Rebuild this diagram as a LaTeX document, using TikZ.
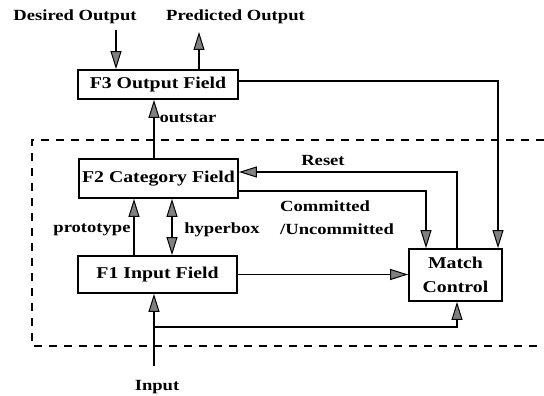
\documentclass[tikz,border=0pt]{standalone}
\usepackage{fontspec}
\setmainfont[FakeStretch=1.2]{Liberation Serif}
\usetikzlibrary{arrows.meta,calc}
\begin{document}
\begin{tikzpicture}[x=1pt,y=-1pt,
  every node/.style={font=\fontsize{15.5}{23}\selectfont\bfseries, inner sep=0pt},
  box/.style={draw, line width=1.8pt, rectangle, align=center, font=\fontsize{16.5}{24}\selectfont\bfseries},
  tip/.tip={Triangle[length=18pt,width=11pt,fill=black!50,line width=1pt]},
  arr/.style={line width=1.8pt, -tip},
  darr/.style={line width=1.8pt, tip-tip},
  dline/.style={line width=1.6pt, dash pattern=on 8pt off 7pt}]
\useasboundingbox (0,0) rectangle (544,396);

% boxes
\node[box, minimum width=160pt, minimum height=29pt] (F3) at (158,84.5) {F3 Output Field};
\node[box, minimum width=159pt, minimum height=39pt] (F2) at (158.5,178.5) {F2 Category Field};
\node[box, minimum width=159pt, minimum height=37pt] (F1) at (157.5,274.5) {F1 Input Field};
\node[box, minimum width=93pt, minimum height=52pt] (MC) at (455.5,275) {Match\\Control};

% labels
\node (dout) at (75,17) {Desired Output};
\node (pout) at (235.5,17) {Predicted Output};
\node (lout) at (188,118) {outstar};
\node (lreset) at (323,161) {Reset};
\node[anchor=west, align=left] (lcom) at (280,218) {Committed\\/Uncommitted};
\node (lproto) at (92,230) {prototype};
\node (lhyper) at (222,230) {hyperbox};
\node (lin) at (157,387) {Input};

% free ends
\coordinate (dtop) at (116,30);
\coordinate (ptop) at (199,32);
\coordinate (inp) at (154,366);
\coordinate (br) at (154,327);

% dashed boundary
\draw[dline] (544,140) -- (32,140) -- (32,346) -- (544,346);

% connectors
\draw[arr] (dtop) -- (dtop |- F3.north);
\draw[arr] (ptop |- F3.north) -- (ptop);
\draw[arr] ([yshift=3.5pt]F3.east) -| ([xshift=42.5pt]MC.north);
\draw[arr] ([xshift=-4.5pt]F2.north) -- ([xshift=-4pt]F3.south);
\draw[arr] ([xshift=1.5pt]MC.north) |- ([yshift=6.5pt]F2.east);
\draw[arr] ([yshift=-12.5pt]F2.east) -| ([xshift=-29.5pt]MC.north);
\draw[arr] ([xshift=-23.5pt]F1.north) -- ([xshift=-24.5pt]F2.south);
\draw[darr] ([xshift=14.5pt]F1.north) -- ([xshift=13.5pt]F2.south);
\draw[arr] (F1.east) -- (F1.east -| MC.west);
\draw[arr] (inp) -- (inp |- F1.south);
\draw[arr] (br) -| ([xshift=1.5pt]MC.south);
\end{tikzpicture}
\end{document}
